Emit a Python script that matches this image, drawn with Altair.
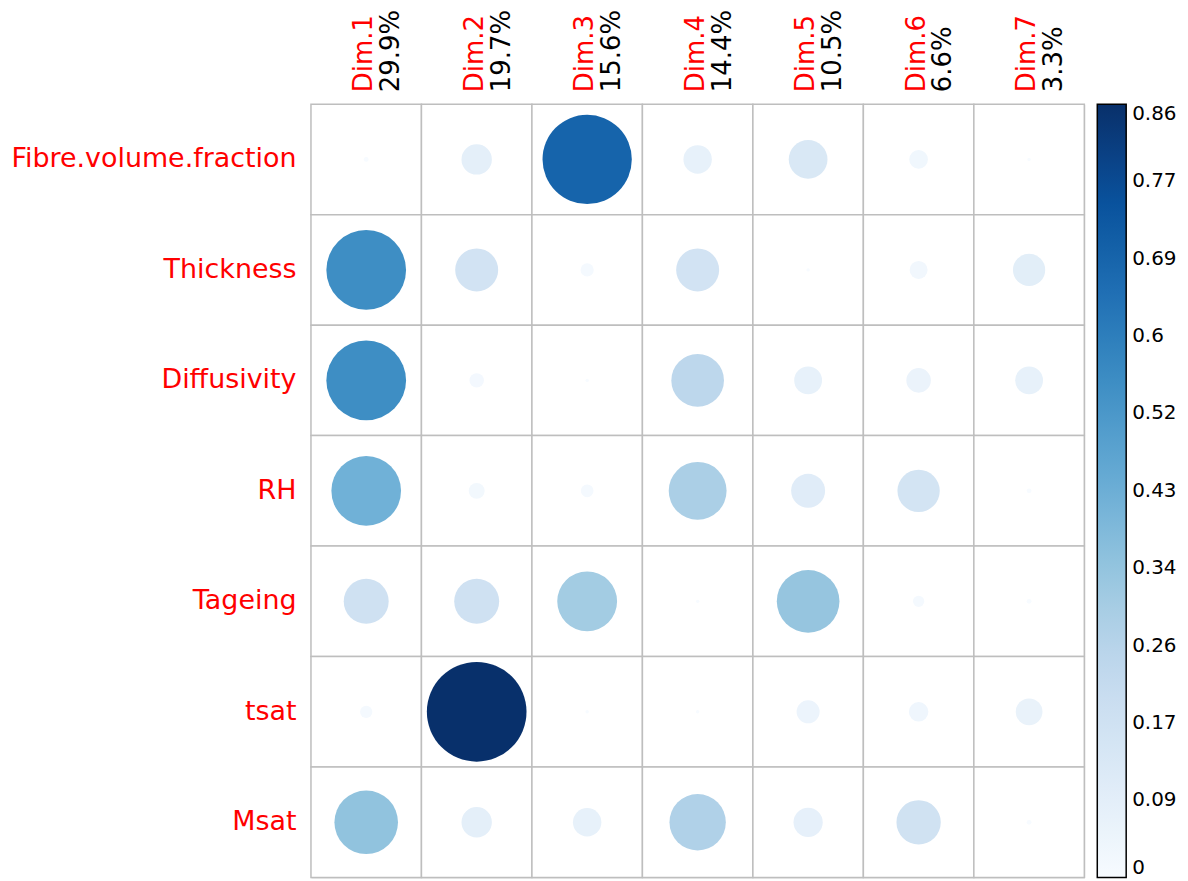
import altair as alt
import pandas as pd

variables = ["Fibre.volume.fraction", "Thickness", "Diffusivity", "RH", "Tageing", "tsat", "Msat"]
dims = ["Dim.1", "Dim.2", "Dim.3", "Dim.4", "Dim.5", "Dim.6", "Dim.7"]
dim_pct = ["29.9%", "19.7%", "15.6%", "14.4%", "10.5%", "6.6%", "3.3%"]

fibre = [0.002, 0.08, 0.69, 0.07, 0.13, 0.03, 0.001]
thickness = [0.55, 0.16, 0.015, 0.16, 0.001, 0.028, 0.09]
diffusivity = [0.55, 0.018, 0.001, 0.24, 0.067, 0.052, 0.067]
rh = [0.42, 0.022, 0.014, 0.29, 0.10, 0.155, 0.002]
tageing = [0.175, 0.175, 0.31, 0.001, 0.34, 0.011, 0.002]
tsat = [0.013, 0.86, 0.001, 0.001, 0.046, 0.033, 0.062]
msat = [0.35, 0.08, 0.07, 0.275, 0.074, 0.17, 0.002]

legend_ticks = [0, 0.086, 0.172, 0.258, 0.344, 0.43, 0.516, 0.602, 0.688, 0.774, 0.86]
blues = ["#F7FBFF", "#DEEBF7", "#C6DBEF", "#9ECAE1", "#6BAED6",
         "#4292C6", "#2171B5", "#08519C", "#08306B"]
color_stops = [0.0, 0.1075, 0.215, 0.3225, 0.43, 0.5375, 0.645, 0.7525, 0.86]

rows = [fibre, thickness, diffusivity, rh, tageing, tsat, msat]
records = [
    {"var": v, "dim": d, "value": val}
    for v, row in zip(variables, rows)
    for d, val in zip(dims, row)
]
df = pd.DataFrame(records)
pct_df = pd.DataFrame({"dim": dims, "pct": dim_pct})

FONT = "DejaVu Sans"
x_scale = alt.Scale(domain=dims, paddingInner=0, paddingOuter=0)
y_scale = alt.Scale(domain=variables, paddingInner=0, paddingOuter=0)

y_axis = alt.Axis(labelColor="#FF0000", labelFontSize=27, labelFont=FONT, ticks=False,
                  domain=False, labelPadding=15, title=None, labelLimit=400, grid=False)

cells = alt.Chart(df).mark_rect(fill="white", stroke="#BEBEBE", strokeWidth=1.5).encode(
    x=alt.X("dim:N", scale=x_scale, axis=None),
    y=alt.Y("var:N", scale=y_scale, axis=y_axis),
)

circles = alt.Chart(df).mark_circle(opacity=1).encode(
    x=alt.X("dim:N", scale=x_scale, axis=None),
    y=alt.Y("var:N", scale=y_scale, axis=y_axis),
    size=alt.Size("value:Q", scale=alt.Scale(domain=[0, 0.86], range=[0, 10000], nice=False, zero=True),
                  legend=None),
    color=alt.Color("value:Q", scale=alt.Scale(domain=color_stops, range=blues, nice=False),
                    legend=alt.Legend(orient="none", legendX=789, legendY=0, direction="vertical",
                                      gradientLength=776, gradientThickness=29,
                                      gradientStrokeColor="black", gradientStrokeWidth=1.5,
                                      values=legend_ticks, format=".2~f", labelFontSize=20,
                                      labelFont=FONT, labelColor="black", labelOffset=6,
                                      labelOverlap=False, title=None, padding=0)),
)

dim_labels = alt.Chart(pct_df).mark_text(angle=270, align="left", baseline="middle", fontSize=26,
                                         font=FONT, color="#FF0000", dy=-2).encode(
    x=alt.X("dim:N", scale=x_scale, axis=None),
    y=alt.value(-12),
    text="dim:N",
)

pct = alt.Chart(pct_df).mark_text(angle=270, align="left", baseline="middle", fontSize=26,
                                  font=FONT, color="black", dy=25).encode(
    x=alt.X("dim:N", scale=x_scale, axis=None),
    y=alt.value(-12),
    text="pct:N",
)

chart = alt.layer(cells, circles, dim_labels, pct).properties(
    width=776, height=776,
    autosize=alt.AutoSizeParams(type="none"),
    padding={"left": 304, "top": 95, "right": 96, "bottom": 10},
).configure_view(stroke=None).configure(font=FONT)

chart.save("out.html", embed_options={"renderer": "svg", "actions": False})
